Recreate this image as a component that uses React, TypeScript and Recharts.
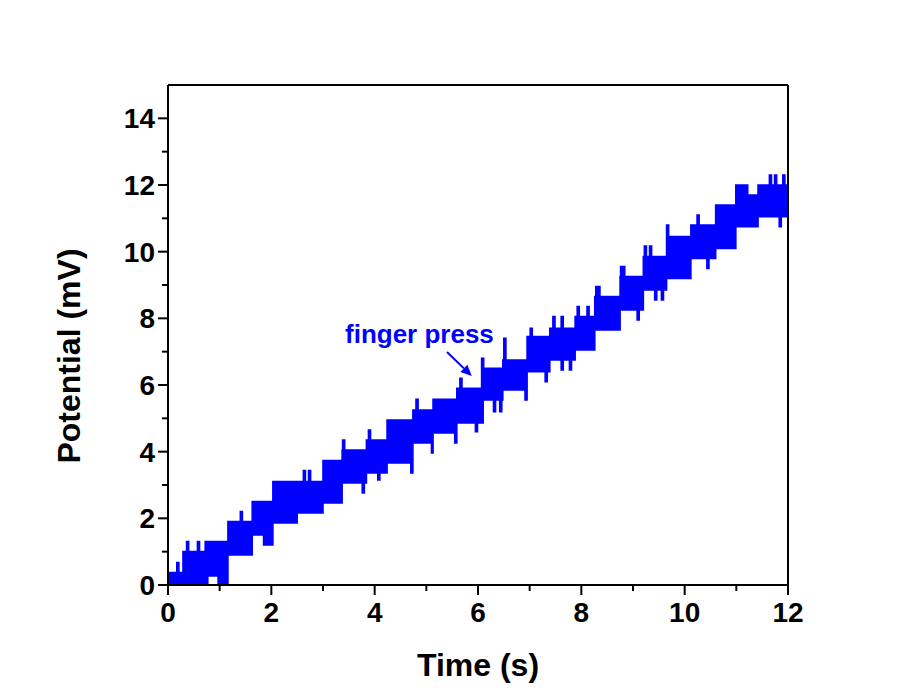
import React from 'react';
import { ComposedChart, Area, XAxis, YAxis, ReferenceLine, ReferenceDot } from 'recharts';

// Step levels of the recorded potential (band of rapid oscillation)
const stepStart = [0, 0.29, 0.72, 0.77, 0.97, 1.16, 1.63, 1.85, 2.03, 2.5, 3.0, 3.37, 3.84, 4.24, 4.74, 5.13, 5.59, 6.1, 6.48, 6.95, 7.39, 7.88, 8.26, 8.75, 9.2, 9.65, 10.12, 10.6, 10.99, 11.22, 11.42, 11.98];
const stepLow = [0, 0, 0, 0.27, 0, 0.9, 1.5, 1.2, 1.86, 2.16, 2.46, 3.06, 3.36, 3.66, 4.26, 4.56, 4.86, 5.55, 5.85, 6.4, 6.75, 7.05, 7.65, 8.25, 8.85, 9.2, 9.8, 10.1, 10.75, 10.75, 11.05, 11.35];
const stepHigh = [0.37, 1.0, 1.3, 1.3, 1.3, 1.9, 2.5, 2.5, 3.1, 3.1, 3.73, 4.05, 4.35, 4.95, 5.25, 5.57, 5.9, 6.5, 6.75, 7.45, 7.7, 8.05, 8.65, 9.25, 9.85, 10.45, 10.8, 11.4, 12.0, 11.7, 12.0, 12.0];

// Short spikes (null = keep the step's level)
const spikeStart = [0.17, 0.36, 0.57, 1.4, 2.62, 2.72, 3.38, 3.76, 3.88, 4.06, 4.7, 4.8, 5.1, 5.55, 5.65, 5.95, 6.07, 6.3, 6.42, 6.5, 6.91, 7.01, 7.3, 7.45, 7.61, 7.77, 7.92, 8.11, 8.28, 8.76, 9.08, 9.22, 9.32, 9.42, 9.55, 9.65, 10.24, 10.43, 11.64, 11.74, 11.83, 11.9];
const spikeEnd = [0.21, 0.4, 0.61, 1.44, 2.66, 2.76, 3.42, 3.8, 3.92, 4.1, 4.74, 4.84, 5.13, 5.59, 5.69, 5.99, 6.11, 6.34, 6.46, 6.54, 6.95, 7.05, 7.34, 7.49, 7.65, 7.81, 7.96, 8.15, 8.36, 8.84, 9.12, 9.26, 9.36, 9.46, 9.59, 9.69, 10.28, 10.47, 11.68, 11.78, 11.87, 11.94];
const spikeLow: (number | null)[] = [null, null, null, null, null, null, null, 2.76, null, 3.15, 3.36, null, 3.96, 4.26, null, 4.6, null, 5.2, 5.2, null, 5.55, null, 6.1, null, 6.45, 6.45, null, null, null, null, 7.95, null, null, 8.55, 8.55, null, null, 9.5, null, null, 10.75, null];
const spikeHigh: (number | null)[] = [0.67, 1.3, 1.3, 2.2, 3.43, 3.43, 4.35, null, 4.65, null, null, 5.57, null, null, 6.2, null, 6.8, null, null, 7.4, null, 7.7, null, 8.05, 8.05, null, 8.35, 8.35, 8.95, 9.55, null, 10.17, 10.17, null, null, 10.8, 11.1, null, 12.3, 12.3, null, 12.3];

const xTicks = [0, 1, 2, 3, 4, 5, 6, 7, 8, 9, 10, 11, 12];
const yTicks = [0, 1, 2, 3, 4, 5, 6, 7, 8, 9, 10, 11, 12, 13, 14];

const annotationText = 'finger press';

function buildData() {
  const set = new Set<number>([...stepStart, ...spikeStart, ...spikeEnd, 12]);
  const times = Array.from(set).sort((a, b) => a - b);
  return times.map((t) => {
    let idx = 0;
    for (let i = 0; i < stepStart.length; i++) if (stepStart[i] <= t + 1e-9) idx = i;
    let lo = stepLow[idx];
    let hi = stepHigh[idx];
    for (let k = 0; k < spikeStart.length; k++) {
      if (spikeStart[k] <= t + 1e-9 && t < spikeEnd[k] - 1e-9) {
        if (spikeLow[k] !== null) lo = spikeLow[k] as number;
        if (spikeHigh[k] !== null) hi = spikeHigh[k] as number;
      }
    }
    return { t, range: [lo, hi] };
  });
}

const data = buildData();
const FONT = '"Liberation Sans", Arial, Helvetica, sans-serif';
const BLUE = '#0000ff';

const XTick = (props: any) => {
  const { x, y, payload } = props;
  const v = payload.value;
  const major = v % 2 === 0;
  return (
    <g>
      <line x1={x} y1={y} x2={x} y2={y + (major ? 10 : 6)} stroke="#000" strokeWidth={2} />
      {major && (
        <text x={x} y={y + 37} textAnchor="middle" fontSize={28} fontWeight="bold" fontFamily={FONT} fill="#000">
          {v}
        </text>
      )}
    </g>
  );
};

const YTick = (props: any) => {
  const { x, y, payload } = props;
  const v = payload.value;
  const major = v % 2 === 0;
  return (
    <g>
      <line x1={x} y1={y} x2={x - (major ? 10 : 6)} y2={y} stroke="#000" strokeWidth={2} />
      {major && (
        <text x={x - 13} y={y + 10} textAnchor="end" fontSize={28} fontWeight="bold" fontFamily={FONT} fill="#000">
          {v}
        </text>
      )}
    </g>
  );
};

const ArrowShape = (p: any) => {
  const { x1, y1, x2, y2 } = p;
  const dx = x2 - x1;
  const dy = y2 - y1;
  const len = Math.sqrt(dx * dx + dy * dy) || 1;
  const ux = dx / len;
  const uy = dy / len;
  const hl = 11;
  const hw = 5;
  const bx = x2 - ux * hl;
  const by = y2 - uy * hl;
  return (
    <g>
      <line x1={x1} y1={y1} x2={bx} y2={by} stroke={BLUE} strokeWidth={2} />
      <polygon
        points={`${x2},${y2} ${bx - uy * hw},${by + ux * hw} ${bx + uy * hw},${by - ux * hw}`}
        fill={BLUE}
      />
    </g>
  );
};

const TextShape = (p: any) => (
  <text x={p.cx} y={p.cy} textAnchor="start" fontSize={26} fontWeight="bold" fontFamily={FONT} fill={BLUE}>
    {annotationText}
  </text>
);

export default function App() {
  return (
    <div style={{ position: 'absolute', left: 0, top: 0, background: '#fff' }}>
      <ComposedChart
        width={903}
        height={693}
        data={data}
        margin={{ top: 85, right: 115, bottom: 0, left: 0 }}
      >
        <XAxis
          dataKey="t"
          type="number"
          domain={[0, 12]}
          ticks={xTicks}
          interval={0}
          height={108}
          tickSize={0}
          tickMargin={0}
          tickLine={false}
          tick={<XTick />}
          axisLine={{ stroke: '#000', strokeWidth: 2 }}
          allowDataOverflow
          label={{
            value: 'Time (s)',
            position: 'insideBottom',
            offset: 17,
            style: { fontSize: 32, fontWeight: 'bold', fontFamily: FONT, fill: '#000' },
          }}
        />
        <YAxis
          type="number"
          domain={[0, 15]}
          ticks={yTicks}
          interval={0}
          width={168}
          tickSize={0}
          tickMargin={0}
          tickLine={false}
          tick={<YTick />}
          axisLine={{ stroke: '#000', strokeWidth: 2 }}
          allowDataOverflow
          label={{
            content: () => (
              <text
                x={80}
                y={356}
                transform="rotate(-90, 80, 356)"
                textAnchor="middle"
                fontSize={32}
                fontWeight="bold"
                fontFamily={FONT}
                fill="#000"
              >
                Potential (mV)
              </text>
            ),
          }}
        />
        <Area
          dataKey="range"
          type="stepAfter"
          stroke={BLUE}
          strokeWidth={1.6}
          fill={BLUE}
          fillOpacity={1}
          isAnimationActive={false}
          dot={false}
          activeDot={false}
        />
        <ReferenceLine y={15} stroke="#000" strokeWidth={2} />
        <ReferenceLine x={12} stroke="#000" strokeWidth={2} />
        <ReferenceLine
          segment={[{ x: 5.4, y: 6.99 }, { x: 5.88, y: 6.27 }]}
          shape={ArrowShape}
          ifOverflow="visible"
        />
        <ReferenceDot x={3.426} y={7.26} r={0} shape={TextShape} ifOverflow="visible" />
      </ComposedChart>
    </div>
  );
}
